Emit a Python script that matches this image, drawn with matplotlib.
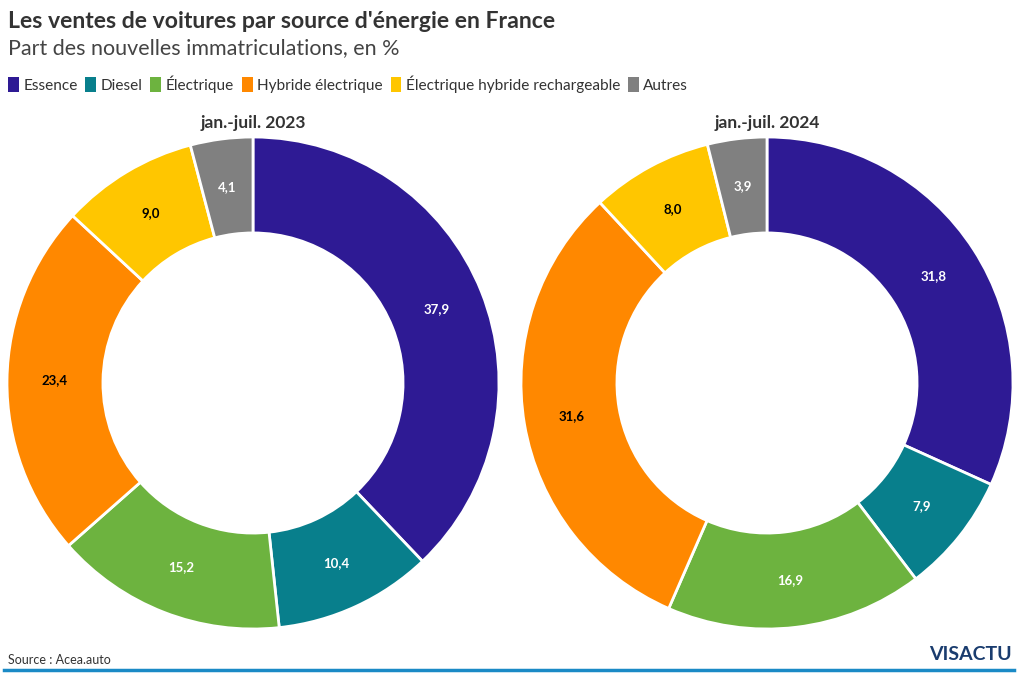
import matplotlib.pyplot as plt
from matplotlib.patches import Patch
from matplotlib.lines import Line2D

plt.rcParams['font.family'] = ['Lato', 'DejaVu Sans']

categories = ['Essence', 'Diesel', 'Électrique', 'Hybride électrique',
              'Électrique hybride rechargeable', 'Autres']
colors = ['#2e1a94', '#087f8c', '#6db33f', '#ff8800', '#ffc600', '#808080']
label_colors = ['white', 'white', 'white', 'black', 'black', 'white']

periods = ['jan.-juil. 2023', 'jan.-juil. 2024']
values_2023 = [37.9, 10.4, 15.2, 23.4, 9.0, 4.1]
values_2024 = [31.8, 7.9, 16.9, 31.6, 8.0, 3.9]

W, H = 1020, 679
fig = plt.figure(figsize=(W / 100, H / 100), dpi=100)

# titres
fig.text(8 / W, 1 - 21 / H, "Les ventes de voitures par source d'énergie en France",
         fontsize=16.6, fontweight='bold', color='#333333', va='center')
fig.text(8 / W, 1 - 48 / H, 'Part des nouvelles immatriculations, en %',
         fontsize=15.5, color='#444444', va='center')

# legende
handles = [Patch(facecolor=c, edgecolor='none') for c in colors]
fig.legend(handles, categories, loc='center left', bbox_to_anchor=(-6 / W, 1 - 84 / H),
           ncol=6, frameon=False, fontsize=11.1, handlelength=0.7, handleheight=1.1,
           handletextpad=0.3, columnspacing=0.5, labelcolor='#333333')

# donuts
R = 246
centers = [(253, 383), (767, 383)]
for (cx, cy), period, vals in zip(centers, periods, [values_2023, values_2024]):
    ax = fig.add_axes([(cx - R) / W, (H - cy - R) / H, 2 * R / W, 2 * R / H])
    wedges, texts = ax.pie(vals, colors=colors, startangle=90, counterclock=False,
                           radius=1, labels=[f'{v:.1f}'.replace('.', ',') for v in vals],
                           labeldistance=0.805,
                           wedgeprops=dict(width=0.39, edgecolor='white', linewidth=2))
    for t, lc in zip(texts, label_colors):
        t.set_color(lc)
        t.set_fontsize(9.5)
        t.set_fontweight('bold')
        t.set_ha('center')
        t.set_va('center')
    ax.set_xlim(-1, 1)
    ax.set_ylim(-1, 1)
    ax.set_aspect('equal')
    fig.text(cx / W, 1 - 123 / H, period, fontsize=12.5, fontweight='bold',
             color='#333333', ha='center', va='center')

# pied de page
fig.text(8 / W, 1 - 660 / H, 'Source : Acea.auto', fontsize=9, color='#333333', va='center')
fig.text(1012 / W, 1 - 655 / H, 'VISACTU', fontsize=14, fontweight='bold',
         color='#1a3c6e', ha='right', va='center', fontstretch='condensed')
fig.add_artist(Line2D([4 / W, 1014 / W], [1 - 670 / H, 1 - 670 / H],
                      color='#1a8ac6', linewidth=2.5))

fig.savefig('out.png', dpi=100, facecolor='white')
